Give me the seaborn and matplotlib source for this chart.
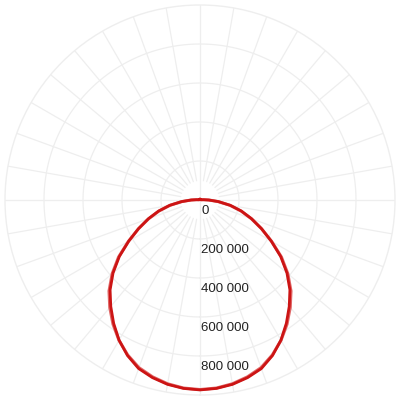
import numpy as np
import pandas as pd
import matplotlib
matplotlib.use("Agg")
import matplotlib.pyplot as plt
import seaborn as sns

# Angles (degrees from nadir) and luminous intensity values
angles_deg = [0, 5, 10, 15, 20, 25, 30, 35, 40, 45, 50, 55, 60, 65, 70, 75, 80, 85,
              90, 95, 100, 110, 120, 130, 140, 150, 160, 170, 180]
c0_values = [974000, 970000, 960000, 943000, 920000, 880000, 830000, 772000, 712000,
             652000, 582000, 505000, 422000, 348000, 282000, 220000, 158000, 95000,
             45000, 18000, 8000, 4000, 4000, 4000, 4000, 4000, 4000, 4000, 4000]
c90_values = [972000, 968000, 957000, 939000, 915000, 877000, 831000, 778000, 720000,
              660000, 588000, 510000, 424000, 348000, 280000, 218000, 156000, 94000,
              45000, 18000, 8000, 4000, 4000, 4000, 4000, 4000, 4000, 4000, 4000]
r_ticks = [0, 200000, 400000, 600000, 800000]
r_tick_labels = ["0", "200 000", "400 000", "600 000", "800 000"]
r_max = 1000000

sns.set_style("white")
plt.rcParams["font.family"] = ["Liberation Sans", "DejaVu Sans"]

def mirror(angles, values):
    a = [-x for x in angles[::-1]] + angles[1:]
    v = values[::-1] + values[1:]
    return np.deg2rad(a), v

fig = plt.figure(figsize=(4, 4), dpi=100)
ax = fig.add_axes([0.0125, 0.0125, 0.975, 0.975], projection="polar")
ax.set_theta_zero_location("S")
ax.set_ylim(0, r_max)

grid_col = "#eeeeee"
ax.grid(False)
ax.spines["polar"].set_color(grid_col)
ax.spines["polar"].set_linewidth(1.0)

# Grid circles
circ = np.linspace(0, 2 * np.pi, 361)
for rv in r_ticks[1:]:
    ax.plot(circ, [rv] * len(circ), color=grid_col, lw=0.9, zorder=1)
# Spokes every 10 degrees
for d in range(0, 360, 10):
    t = np.deg2rad(d)
    r0 = 0 if d % 90 == 0 else 100000
    ax.plot([t, t], [r0, r_max], color=grid_col, lw=0.9, zorder=1)

t0, v0 = mirror(angles_deg, c0_values)
t90, v90 = mirror(angles_deg, c90_values)
df90 = pd.DataFrame({"theta": t90, "r": v90})
df0 = pd.DataFrame({"theta": t0, "r": v0})
sns.lineplot(data=df90, x="theta", y="r", ax=ax, sort=False, color="#e06666",
             lw=2.2, zorder=3, estimator=None, solid_joinstyle="round")
sns.lineplot(data=df0, x="theta", y="r", ax=ax, sort=False, color="#cc1414",
             lw=2.0, zorder=4, estimator=None, solid_joinstyle="round")
ax.set_xlabel("")
ax.set_ylabel("")
ax.set_ylim(0, r_max)
ax.set_xticks([])
ax.set_yticks([])

for rv, lab in zip(r_ticks, r_tick_labels):
    ax.annotate(lab, xy=(0, rv), xytext=(0.8, -3.6), textcoords="offset points",
                ha="left", va="top", fontsize=9.5, color="#222222", zorder=5)

fig.savefig("out.png", dpi=100, facecolor="white")
